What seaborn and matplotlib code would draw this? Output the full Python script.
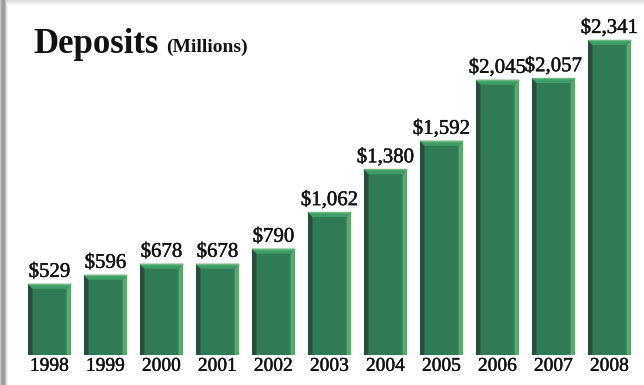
import numpy as np
import pandas as pd
import matplotlib
matplotlib.use("Agg")
import matplotlib.pyplot as plt
import matplotlib.patheffects as pe
from matplotlib.patches import Polygon
import seaborn as sns

years = ["1998", "1999", "2000", "2001", "2002", "2003",
         "2004", "2005", "2006", "2007", "2008"]
deposits = [529, 596, 678, 678, 790, 1062, 1380, 1592, 2045, 2057, 2341]
value_labels = ["$529", "$596", "$678", "$678", "$790", "$1,062",
                "$1,380", "$1,592", "$2,045", "$2,057", "$2,341"]

df = pd.DataFrame({"year": years, "deposits": deposits})

sns.set_theme(style="white")
plt.rcParams["font.family"] = ["Liberation Serif", "DejaVu Serif"]

W, H = 644, 385
fig = plt.figure(figsize=(W / 100, H / 100), dpi=100)

# soft drop shadow along the top and left edges of the white panel
bg = fig.add_axes([0, 0, 1, 1])
shade = np.ones((H, W))
left_prof = [0.78, 0.66, 0.60, 0.60, 0.64, 0.74, 0.86, 0.96]
top_prof = [0.86, 0.88, 0.91, 0.94, 0.97, 0.99]
for i, v in enumerate(left_prof):
    shade[:, i] = np.minimum(shade[:, i], v)
for j, v in enumerate(top_prof):
    shade[j, :] = np.minimum(shade[j, :], v)
bg.imshow(np.dstack([shade] * 3), aspect="auto", extent=(0, 1, 0, 1))
bg.set_axis_off()

bottom_px = 355
ax = fig.add_axes([0, (H - bottom_px) / H, 1, bottom_px / H])
ax.patch.set_alpha(0)

face = "#2e7b56"
sns.barplot(data=df, x="year", y="deposits", color=face, saturation=1,
            width=0.77, ax=ax, edgecolor="none", linewidth=0)

px_per_unit = 0.1346
ax.set_xlim(-49.5 / 56, (W - 49.5) / 56)
ax.set_ylim(0, bottom_px / px_per_unit)

# bevelled edges on each bar
data_per_px_x = 1 / 56
data_per_px_y = 1 / px_per_unit
bx = 4.5 * data_per_px_x
by = 5 * data_per_px_y
for p in ax.patches:
    x0, w, h = p.get_x(), p.get_width(), p.get_height()
    x1 = x0 + w
    ax.add_patch(Polygon([(x0, 0), (x0, h), (x0 + bx, h - by), (x0 + bx, 0)],
                         closed=True, color="#294d3a", lw=0))
    ax.add_patch(Polygon([(x1, 0), (x1, h), (x1 - bx, h - by), (x1 - bx, 0)],
                         closed=True, color="#5aa86b", lw=0))
    ax.add_patch(Polygon([(x0, h), (x1, h), (x1 - bx, h - by), (x0 + bx, h - by)],
                         closed=True, color="#3f9e67", lw=0))
    ax.plot([x0, x1], [h, h], color="#6fb882", lw=1.0, solid_capstyle="butt")

heavy = [pe.withStroke(linewidth=0.3, foreground="#111111")]

for i, (v, lab) in enumerate(zip(deposits, value_labels)):
    ax.annotate(lab, (i, v), xytext=(0, 5), textcoords="offset points",
                ha="center", va="baseline", fontsize=15, color="#111111",
                path_effects=heavy)

ax.set_xlabel("")
ax.set_ylabel("")
ax.set_yticks([])
ax.tick_params(axis="x", length=0, pad=2, labelsize=14, labelcolor="#111111")
for t in ax.get_xticklabels():
    t.set_path_effects(heavy)
for s in ax.spines.values():
    s.set_visible(False)

fig.text(33 / W, (H - 53) / H, "Deposits", fontsize=25, fontweight="bold",
         color="#111111", va="baseline", ha="left")
fig.text(166 / W, (H - 52) / H, "(Millions)", fontsize=14, fontweight="bold",
         color="#111111", va="baseline", ha="left")

fig.savefig("out.png", dpi=100)
